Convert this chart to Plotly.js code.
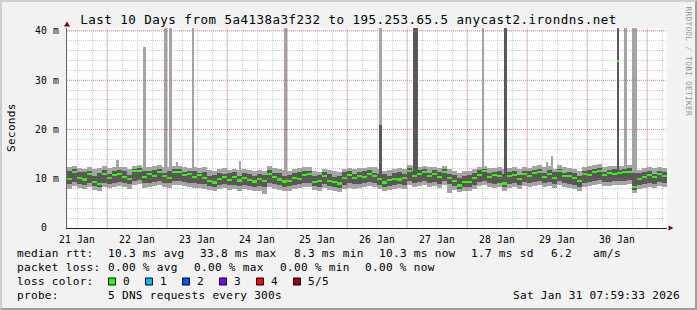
<!DOCTYPE html>
<html><head><meta charset="utf-8">
<script src="https://cdn.plot.ly/plotly-3.0.1.min.js"></script>
<style>
html,body{margin:0;padding:0;background:#f2f2f2;}
#wrap{position:relative;width:697px;height:310px;overflow:hidden;}
#frame{position:absolute;left:0;top:0;width:697px;height:310px;box-sizing:border-box;border-top:2px solid #cfcfcf;border-left:2px solid #cfcfcf;border-bottom:2px solid #9e9e9e;border-right:2px solid #9e9e9e;pointer-events:none;}
.gtitle{letter-spacing:0.48px;}
.xtick text,.ytick text{letter-spacing:0.15px;}
.annotation-text{letter-spacing:0.28px;}
</style></head>
<body><div id="wrap"><div id="chart"></div><div id="frame"></div></div>
<script>
// ---- smoke data (ms), 2-hour steps starting 2026-01-21 08:00 ----
const medianMs = [
 10.0,11.3,10.2,9.8,10.9,9.3,8.9,11.0,
 10.2,10.8,11.0,10.3,10.0,11.5,11.6,10.3,10.9,10.5,11.3,10.6,
 10.2,11.3,11.4,10.7,11.0,10.4,10.7,10.1,9.5,9.2,10.0,10.3,
 9.7,10.3,9.6,10.1,9.7,9.4,9.9,9.5,11.0,10.3,9.8,9.4,
 9.5,10.2,10.0,10.7,10.9,9.3,9.5,10.6,9.5,9.3,9.0,10.2,
 10.7,10.1,10.5,10.3,11.0,10.6,9.9,9.2,9.7,10.0,9.8,10.2,
 11.5,10.5,11.0,11.3,10.6,10.9,10.3,11.3,10.2,9.5,8.6,9.3,
 9.3,10.2,10.8,11.5,10.4,10.7,10.6,9.0,10.5,10.8,9.9,10.9,
 10.5,11.2,11.3,10.4,11.0,10.2,11.5,10.6,10.6,10.1,9.5,10.9,
 10.8,11.3,11.6,10.7,11.1,11.0,11.2,11.3,11.4,8.3,9.9,10.4,
 10.8,10.3,11.0,10.5
];
const maxMs = [
 12.3,12.6,12.2,12.0,12.4,11.9,12.1,12.5,
 12.2,12.4,12.3,12.3,12.0,12.6,12.8,12.4,12.4,12.5,12.7,12.3,
 12.4,12.6,12.5,12.4,12.2,12.3,12.1,12.3,11.8,11.6,12.0,12.2,
 11.8,12.0,11.8,11.9,11.7,11.6,11.8,11.5,12.5,12.1,11.9,11.7,
 11.5,11.9,12.1,12.3,12.4,11.6,11.4,12.0,11.8,11.5,11.3,12.0,
 12.2,11.9,12.1,12.2,12.4,12.3,12.0,11.6,11.8,12.0,12.1,12.0,
 12.8,12.5,12.4,12.6,12.3,12.4,12.1,12.6,12.0,11.6,11.2,11.5,
 11.6,12.0,12.4,12.6,12.2,12.1,12.3,12.0,12.1,12.3,11.9,12.4,
 12.2,12.5,12.7,12.4,12.5,12.0,12.8,12.3,12.1,11.9,11.6,12.3,
 12.5,12.7,12.9,12.4,12.6,12.6,12.5,12.6,12.8,11.9,11.8,12.2,
 12.3,12.1,12.4,12.2
];
const upperMs = [
 11.5,11.9,11.3,11.3,11.6,10.6,11.2,11.7,
 11.0,11.6,11.7,11.5,10.8,12.0,12.2,11.6,11.5,11.8,12.0,11.2,
 11.5,11.9,12.0,11.3,11.5,11.6,11.2,11.4,10.6,10.8,11.2,11.0,
 11.1,11.3,10.6,11.2,11.0,10.5,11.0,10.8,11.7,11.2,11.1,10.6,
 10.8,11.2,11.4,11.5,11.6,10.5,10.7,11.4,11.0,10.3,10.6,11.3,
 11.5,10.9,11.4,11.5,11.7,11.2,11.0,10.9,10.6,11.2,11.3,10.9,
 12.1,11.6,11.7,11.9,11.2,11.7,11.4,11.9,11.0,10.8,10.2,10.6,
 10.8,11.2,11.7,12.0,11.1,11.4,11.6,11.0,11.4,11.6,10.8,11.6,
 11.5,11.8,12.0,11.1,11.7,11.3,12.0,11.2,11.4,11.2,10.5,11.6,
 11.7,11.9,12.2,11.4,11.8,11.9,11.8,11.9,12.1,11.2,11.1,11.4,
 11.5,11.0,11.6,11.4
];
const lowerMs = [
 8.9,9.3,9.0,8.8,9.1,8.5,8.3,9.2,
 9.0,9.1,9.4,9.2,8.9,9.6,9.8,9.1,9.2,9.4,9.5,9.2,
 9.1,9.5,9.6,9.3,9.2,9.1,9.0,8.9,8.6,8.4,8.7,8.9,
 8.7,8.8,8.5,8.8,8.6,8.4,8.5,8.3,9.2,8.9,8.7,8.4,
 8.5,8.8,8.9,9.1,9.2,8.5,8.4,9.0,8.6,8.3,8.2,8.8,
 9.1,8.9,9.0,9.1,9.3,9.2,8.8,8.4,8.6,8.8,8.9,8.8,
 9.6,9.2,9.4,9.5,9.2,9.3,9.0,9.5,8.9,8.5,8.0,8.3,
 8.4,8.8,9.3,9.6,9.1,9.0,9.2,8.3,9.0,9.2,8.8,9.3,
 9.1,9.4,9.6,9.1,9.3,8.9,9.6,9.2,9.0,8.8,8.4,9.2,
 9.3,9.5,9.8,9.3,9.4,9.5,9.6,9.6,9.7,7.8,8.7,9.0,
 9.2,9.0,9.3,9.1
];
const minMs = [
 8.0,8.5,8.2,7.9,8.3,7.7,7.6,8.4,
 8.1,8.3,8.6,8.4,8.0,8.8,9.0,8.2,8.4,8.6,8.7,8.3,
 8.2,8.7,8.8,8.5,8.3,8.2,8.1,8.0,7.7,7.5,7.9,8.1,
 7.8,7.9,7.6,7.9,7.7,7.5,7.6,7.0,8.3,8.0,7.8,7.5,
 7.6,7.9,8.1,8.3,8.4,7.7,7.5,8.1,7.8,7.5,7.4,8.0,
 8.2,8.0,8.2,8.3,8.5,8.4,8.0,7.6,7.8,8.0,8.1,8.0,
 8.8,8.4,8.6,8.7,8.4,8.5,8.2,8.7,7.1,7.7,7.3,7.6,
 7.6,8.0,8.5,8.8,8.3,8.2,8.4,7.6,8.2,8.4,8.0,8.5,
 8.3,8.6,8.8,8.3,8.5,8.1,8.8,8.4,8.2,8.0,7.6,8.4,
 8.5,8.7,9.0,8.5,8.6,8.7,8.8,8.8,8.9,7.2,7.9,8.2,
 8.4,8.2,8.5,8.3
];
// ---- short spikes (1-hour wide), 45 = beyond the top of the graph ----
const spikeTimes = ['2026-01-22 04:12','2026-01-22 15:00','2026-01-22 23:22','2026-01-23 01:18','2026-01-23 04:00','2026-01-23 10:24',
 '2026-01-24 05:12','2026-01-24 23:24','2026-01-26 13:24','2026-01-27 03:00','2026-01-27 04:00','2026-01-28 06:24','2026-01-28 15:18',
 '2026-01-29 07:54','2026-01-29 09:54','2026-01-30 12:18','2026-01-30 15:18','2026-01-30 18:24','2026-01-30 19:24'];
const spikeMax    = [13.8,36.7,45,45,13.5,45, 13.6,45,45,45,45,45,45, 13.3,14.6,45,45,45,45];
const spikeUpper  = [null,null,null,null,null,null, null,null,21.0,45,45,null,45, null,null,45,null,null,null];
const spikeMedian = [null,null,null,null,null,null, null,null,null,null,null,null,null, null,null,33.8,null,null,null];

const dayDates = ['2026-01-21','2026-01-22','2026-01-23','2026-01-24','2026-01-25','2026-01-26','2026-01-27','2026-01-28','2026-01-29','2026-01-30'];
const dayLabels = ['21 Jan','22 Jan','23 Jan','24 Jan','25 Jan','26 Jan','27 Jan','28 Jan','29 Jan','30 Jan'];
const midnights = ['2026-01-22','2026-01-23','2026-01-24','2026-01-25','2026-01-26','2026-01-27','2026-01-28','2026-01-29','2026-01-30','2026-01-31'];
const yTicks = [0,10,20,30,40];
const yTickText = ['0\u00a0\u00a0','10 m','20 m','30 m','40 m'];
const lossLabels = ['0','1','2','3','4','5/5'];
const lossColors = ['#26ff00','#00b8ff','#0059ff','#7e00ff','#ff0000','#a00000'];

// ---- helpers ----
const STEP_MS = 2*3600*1000, SPIKE_MS = 3600*1000, SPIKE_BASE = 10;
const T0 = Date.UTC(2026,0,21,8,0,0);
function fmt(ms){ return new Date(ms).toISOString().replace('T',' ').slice(0,19); }
const xs = medianMs.map((_,i)=>fmt(T0 + (i+0.5)*STEP_MS));
const L=67, R=667, TOP=28, BOT=228;
const px = v => (v-L)/(R-L);
const py = v => (BOT-v)/(BOT-TOP);
const LIGHT='#a4a4a4', DARK='#585858';
const bar = (x, base, h, w, color) => ({type:'bar', x, base, y:h, width:w, marker:{color, line:{width:0}}, hoverinfo:'skip'});

const traces = [
 bar(xs, minMs, maxMs.map((v,i)=>v-minMs[i]), STEP_MS, LIGHT),
 bar(spikeTimes, spikeMax.map(()=>SPIKE_BASE), spikeMax.map(v=>v-SPIKE_BASE), SPIKE_MS, LIGHT),
 bar(xs, lowerMs, upperMs.map((v,i)=>v-lowerMs[i]), STEP_MS, DARK),
 bar(spikeTimes, spikeUpper.map(()=>SPIKE_BASE), spikeUpper.map(v=>v==null?null:v-SPIKE_BASE), SPIKE_MS, DARK),
 bar(xs, medianMs.map(v=>v-0.2), medianMs.map(()=>0.45), STEP_MS, lossColors[0]),
 bar(spikeTimes, spikeMedian.map(v=>v==null?null:v-0.2), spikeMedian.map(v=>v==null?null:0.45), SPIKE_MS, lossColors[0])
];

const GRID='rgba(150,150,150,0.45)';
const RED='rgba(222,80,80,0.6)';
const shapes=[];
midnights.forEach(m=>shapes.push({type:'line', xref:'x', yref:'paper', x0:m, x1:m, y0:0, y1:1, layer:'above', line:{color:RED, width:1, dash:'1px,1px'}}));
yTicks.slice(1).forEach(v=>shapes.push({type:'line', xref:'paper', yref:'y', x0:0, x1:1, y0:v, y1:v, layer:'above', line:{color:RED, width:1, dash:'1px,1px'}}));
// axis arrows
shapes.push({type:'path', xref:'paper', yref:'paper', layer:'above',
 path:`M ${px(64)} ${py(26.5)} L ${px(70)} ${py(26.5)} L ${px(67)} ${py(21.5)} Z`, fillcolor:'#800000', line:{width:0}});
shapes.push({type:'path', xref:'paper', yref:'paper', layer:'above',
 path:`M ${px(668.5)} ${py(225.5)} L ${px(668.5)} ${py(230.5)} L ${px(673.5)} ${py(228)} Z`, fillcolor:'#800000', line:{width:0}});
// loss colour boxes
lossColors.forEach((c,k)=>shapes.push({type:'rect', xref:'paper', yref:'paper',
 x0:px(108.5+37*k), x1:px(115.5+37*k), y0:py(278), y1:py(285), fillcolor:c, line:{color:'#000', width:1}}));

const LF = {size:11.1, color:'#000', family:'DejaVu Sans Mono, monospace'};
function note(text, x, y, opts){ return Object.assign({text, xref:'paper', yref:'paper', x:px(x), y:py(y), xanchor:'left', yanchor:'middle', showarrow:false, borderpad:0, font:LF}, opts||{}); }
const annotations = [
 note('median rtt:',16,253.2), note('10.3 ms avg',106.7,253.2), note('33.8 ms max',198.5,253.2),
 note('8.3 ms min',292.7,253.2), note('10.3 ms now',378,253.2), note('1.7 ms sd',470.3,253.2),
 note('6.2',550.3,253.2), note('am/s',592.3,253.2),
 note('packet loss:',16,267.5), note('0.00 % avg',106.7,267.5), note('0.00 % max',192.7,267.5),
 note('0.00 % min',278.7,267.5), note('0.00 % now',364.4,267.5),
 note('loss color:',16,281.5),
 note('probe:',16,295.5), note('5 DNS requests every 300s',106.7,295.5),
 note('Sat Jan 31 07:59:33 2026',680.5,295.5,{xanchor:'right'}),
 note('Seconds',11,128,{xanchor:'center', textangle:-90}),
 note('RRDTOOL / TOBI OETIKER',688.5,61,{xanchor:'center', textangle:90, font:{size:7.8, color:'#959595', family:'DejaVu Sans Mono, monospace'}})
];
lossLabels.forEach((t,k)=>annotations.push(note(t,122+37*k,281.5)));

const layout = {
 width:697, height:310, margin:{l:L, r:697-R, t:TOP, b:310-BOT, pad:0},
 paper_bgcolor:'#f2f2f2', plot_bgcolor:'#ffffff',
 barmode:'overlay', bargap:0, showlegend:false, hovermode:false,
 font:{family:'DejaVu Sans Mono, monospace', color:'#000'},
 title:{text:'Last 10 Days from 5a4138a3f232 to 195.253.65.5 anycast2.irondns.net',
  font:{size:12.5, color:'#000'}, x:0.5, xanchor:'center', xref:'container', y:1-19.5/310, yanchor:'middle', yref:'container'},
 xaxis:{type:'date', range:[fmt(T0), fmt(T0+10*86400000)], tickmode:'array',
  tickvals:dayDates.map(d=>d+' 12:00'), ticktext:dayLabels, showgrid:false, ticks:'',
  tickfont:{size:9.7}, ticklabelstandoff:2, showline:true, linecolor:'#212121', linewidth:1, zeroline:false, fixedrange:true,
  minor:{tickmode:'linear', tick0:'2026-01-21 00:00', dtick:21600000, showgrid:true, gridcolor:GRID, griddash:'1px,1px', gridwidth:1, ticks:''}},
 yaxis:{range:[0,40.6], tickmode:'array', tickvals:yTicks, ticktext:yTickText, showgrid:false, ticks:'',
  tickfont:{size:9.7}, ticklabelstandoff:5, showline:true, linecolor:'#666666', linewidth:1, zeroline:false, fixedrange:true,
  minor:{tickmode:'linear', tick0:0, dtick:2, showgrid:true, gridcolor:GRID, griddash:'1px,1px', gridwidth:1, ticks:''}},
 shapes, annotations
};
Plotly.newPlot('chart', traces, layout, {displayModeBar:false, staticPlot:true});
</script></body></html>
